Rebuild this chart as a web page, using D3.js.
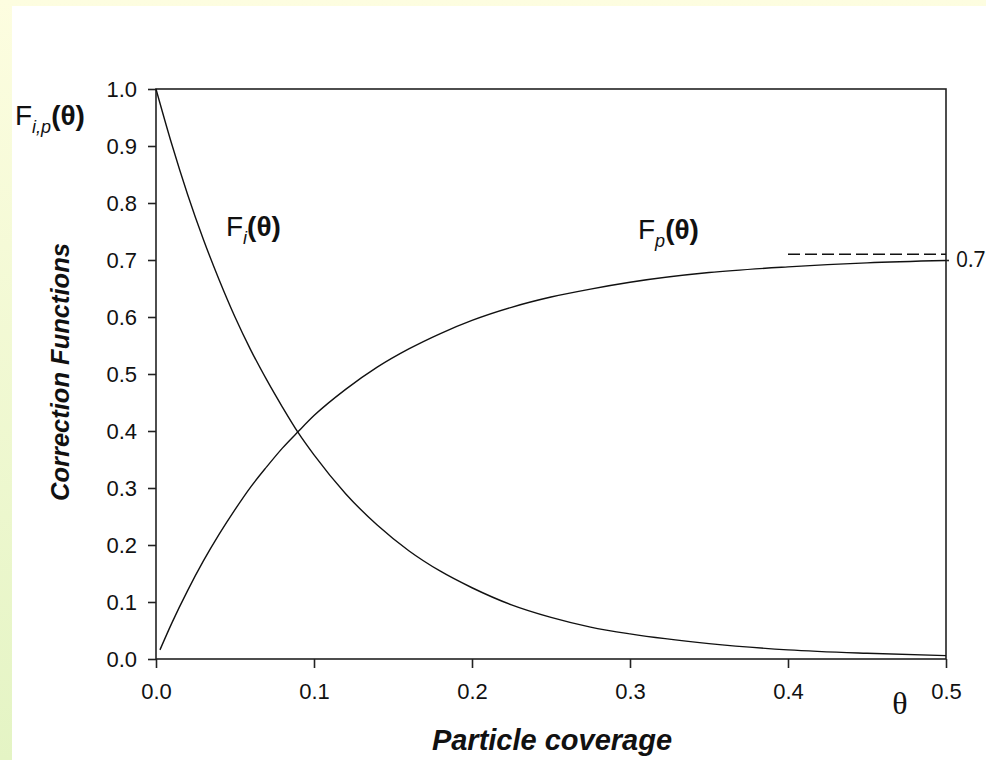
<!DOCTYPE html>
<html>
<head>
<meta charset="utf-8">
<script src="https://cdn.jsdelivr.net/npm/d3@7"></script>
<style>
  html, body { margin: 0; padding: 0; background: #fff; }
  svg { display: block; }
  text { font-family: "Liberation Sans", Arial, sans-serif; fill: #111; }
</style>
</head>
<body>
<svg id="chart" width="986" height="760"></svg>
<script>
// Coverage values (theta) and the two correction functions
const thetaI = [0, 0.01, 0.02, 0.03, 0.04, 0.05, 0.06, 0.07, 0.08, 0.09, 0.10, 0.12, 0.14, 0.16, 0.18, 0.20, 0.225, 0.25, 0.275, 0.30, 0.35, 0.40, 0.45, 0.50];
const fI = [1.0, 0.903, 0.815, 0.736, 0.665, 0.600, 0.542, 0.490, 0.442, 0.397, 0.358, 0.290, 0.235, 0.190, 0.154, 0.125, 0.095, 0.073, 0.056, 0.044, 0.027, 0.016, 0.010, 0.006];

const thetaP = [0.0025, 0.01, 0.02, 0.03, 0.04, 0.05, 0.06, 0.07, 0.08, 0.09, 0.10, 0.12, 0.14, 0.16, 0.18, 0.20, 0.225, 0.25, 0.275, 0.30, 0.35, 0.40, 0.45, 0.50];
const fP = [0.016, 0.063, 0.120, 0.172, 0.219, 0.262, 0.302, 0.337, 0.370, 0.399, 0.427, 0.473, 0.512, 0.544, 0.571, 0.594, 0.617, 0.635, 0.649, 0.661, 0.678, 0.688, 0.695, 0.699];

// Asymptote marker for F_p
const asymptoteX = [0.4, 0.5];
const asymptoteY = 0.71;
const asymptoteLabel = "0.7";

const xTicks = [0, 0.1, 0.2, 0.3, 0.4, 0.5];
const yTicks = [0, 0.1, 0.2, 0.3, 0.4, 0.5, 0.6, 0.7, 0.8, 0.9, 1.0];

const svg = d3.select("#chart");
const W = 986, H = 760;

// Slide background: soft yellow-to-green band on top and left edges
const defs = svg.append("defs");
const grad = defs.append("linearGradient").attr("id", "bg").attr("x1", 0).attr("y1", 0).attr("x2", 0).attr("y2", 1);
grad.append("stop").attr("offset", "0%").attr("stop-color", "#fdfde0");
grad.append("stop").attr("offset", "100%").attr("stop-color", "#e4f4c4");
svg.append("rect").attr("width", W).attr("height", H).attr("fill", "url(#bg)");
svg.append("rect").attr("x", 12).attr("y", 6).attr("width", W - 12).attr("height", H - 6).attr("fill", "#fff");

const plot = { left: 156, right: 946, top: 89, bottom: 659 };
const x = d3.scaleLinear().domain([0, 0.5]).range([plot.left, plot.right]);
const y = d3.scaleLinear().domain([0, 1]).range([plot.bottom, plot.top]);

const axisColor = "#222";
const fmt = d3.format(".1f");

// Left axis
const gy = svg.append("g").attr("transform", `translate(${plot.left},0)`)
  .call(d3.axisLeft(y).tickValues(yTicks).tickFormat(fmt).tickSize(8).tickPadding(11));
// Bottom axis
const gx = svg.append("g").attr("transform", `translate(0,${plot.bottom})`)
  .call(d3.axisBottom(x).tickValues(xTicks).tickFormat(fmt).tickSize(9).tickPadding(15));
// Right axis with the asymptote value
const gr = svg.append("g").attr("transform", `translate(${plot.right},0)`)
  .call(d3.axisRight(y).tickValues([0.7]).tickFormat(() => asymptoteLabel).tickSize(3).tickPadding(7));

[gy, gx, gr].forEach(g => {
  g.selectAll(".domain").remove();
  g.selectAll(".tick line").attr("stroke", axisColor).attr("stroke-width", 1.6);
  g.selectAll(".tick text").attr("fill", "#111").style("font-size", "22px")
    .style("font-family", "'Liberation Sans', Arial, sans-serif");
});
gr.selectAll(".tick text").style("font-family", "'Open Sans', 'DejaVu Sans', sans-serif").style("font-size", "21px");
gx.selectAll(".tick text").attr("dy", "0.71em");

// Frame
svg.append("rect")
  .attr("x", plot.left).attr("y", plot.top)
  .attr("width", plot.right - plot.left).attr("height", plot.bottom - plot.top)
  .attr("fill", "none").attr("stroke", axisColor).attr("stroke-width", 1.6);

// Curves
const line = d3.line().x(d => x(d[0])).y(d => y(d[1])).curve(d3.curveMonotoneX);
svg.append("path").datum(thetaI.map((t, i) => [t, fI[i]]))
  .attr("d", line).attr("fill", "none").attr("stroke", "#111").attr("stroke-width", 1.4);
svg.append("path").datum(thetaP.map((t, i) => [t, fP[i]]))
  .attr("d", line).attr("fill", "none").attr("stroke", "#111").attr("stroke-width", 1.4);

// Dashed asymptote
svg.append("line")
  .attr("x1", x(asymptoteX[0])).attr("x2", x(asymptoteX[1]))
  .attr("y1", y(asymptoteY)).attr("y2", y(asymptoteY))
  .attr("stroke", "#111").attr("stroke-width", 1.4).attr("stroke-dasharray", "12,5");

// Function labels: F + italic subscript + bold (θ)
function fnLabel(px, py, sub) {
  const t = svg.append("text").attr("x", px).attr("y", py).style("font-size", "28px");
  t.append("tspan").text("F");
  t.append("tspan").text(sub).style("font-size", "18px").style("font-style", "italic").attr("dy", 8);
  t.append("tspan").text("(θ)").style("font-weight", "bold").attr("dy", -8);
  return t;
}
fnLabel(15, 125, "i,p");
fnLabel(226, 236, "i");
fnLabel(638, 239, "p");

// Axis titles
svg.append("text")
  .attr("transform", "translate(69,372) rotate(-90)")
  .attr("text-anchor", "middle")
  .style("font-size", "25.5px").style("font-weight", "bold").style("font-style", "italic")
  .text("Correction Functions");

svg.append("text")
  .attr("x", 552).attr("y", 750)
  .attr("text-anchor", "middle")
  .style("font-size", "29px").style("font-weight", "bold").style("font-style", "italic")
  .text("Particle coverage");

svg.append("text")
  .attr("x", 900).attr("y", 714)
  .attr("text-anchor", "middle")
  .style("font-family", "'Liberation Serif', 'Times New Roman', serif")
  .style("font-size", "32px")
  .text("θ");
</script>
</body>
</html>
